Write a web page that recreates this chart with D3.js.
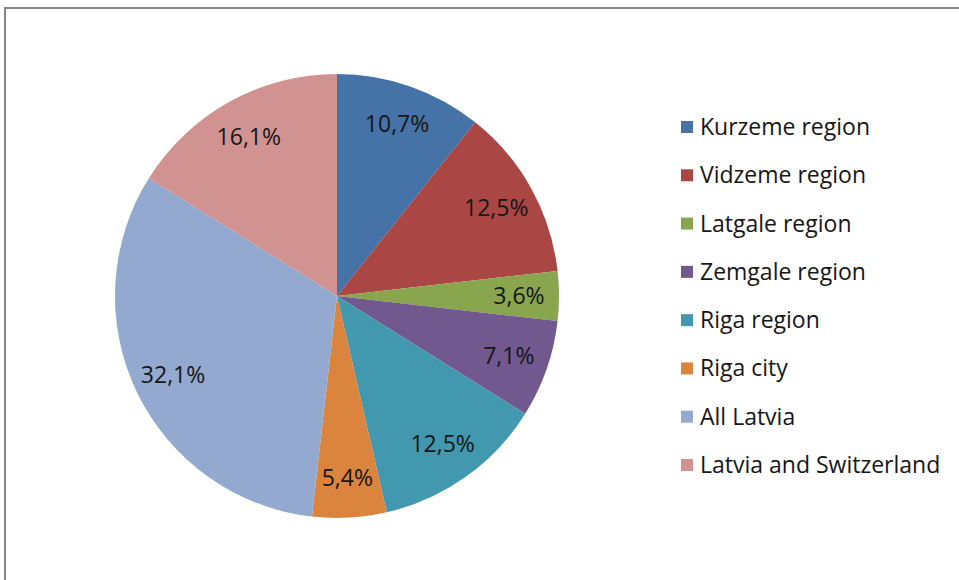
<!DOCTYPE html>
<html><head><meta charset="utf-8">
<script src="https://cdn.jsdelivr.net/npm/d3@7"></script>
<style>html,body{margin:0;padding:0;background:#fff;}svg{display:block;}</style>
</head><body>
<svg id="chart" width="959" height="580"></svg>
<script>
const categories = ["Kurzeme region","Vidzeme region","Latgale region","Zemgale region","Riga region","Riga city","All Latvia","Latvia and Switzerland"];
const values = [10.7, 12.5, 3.6, 7.1, 12.5, 5.4, 32.1, 16.1];
const labels = ["10,7%","12,5%","3,6%","7,1%","12,5%","5,4%","32,1%","16,1%"];
const colors = ["#4572A7","#AA4643","#89A54E","#71588F","#4198AF","#DB843D","#93A9CF","#D19392"];

const svg = d3.select("#chart");
const font = "'Open Sans', sans-serif";

// frame
svg.append("rect").attr("x",5).attr("y",8).attr("width",1000).attr("height",1000)
  .attr("fill","none").attr("stroke","#868686").attr("stroke-width",2);

const cx = 337, cy = 296, r = 222;
const data = categories.map((c,i)=>({name:c,value:values[i],label:labels[i],color:colors[i]}));
const pie = d3.pie().value(d=>d.value).sort(null);
const arc = d3.arc().innerRadius(0).outerRadius(r);
const labelArc = d3.arc().innerRadius(182).outerRadius(182);

const g = svg.append("g").attr("transform",`translate(${cx},${cy})`);
const arcs = pie(data);
g.selectAll("path").data(arcs).join("path")
  .attr("d",arc).attr("fill",d=>d.data.color);

g.selectAll("text").data(arcs).join("text")
  .attr("transform",d=>`translate(${labelArc.centroid(d)})`)
  .attr("text-anchor","middle").attr("dy","0.35em")
  .attr("font-family",font).attr("font-size",23).attr("fill","#161616")
  .text(d=>d.data.label);

// legend
const legY = d3.scalePoint().domain(categories).range([127,465]);
const leg = svg.append("g");
const items = leg.selectAll("g").data(data).join("g")
  .attr("transform",d=>`translate(681,${legY(d.name)})`);
items.append("rect").attr("x",0).attr("y",-6).attr("width",12).attr("height",12).attr("fill",d=>d.color);
items.append("text").attr("x",19).attr("y",0).attr("dy","0.35em")
  .attr("font-family",font).attr("font-size",23).attr("fill","#161616")
  .text(d=>d.name);
</script>
</body></html>
